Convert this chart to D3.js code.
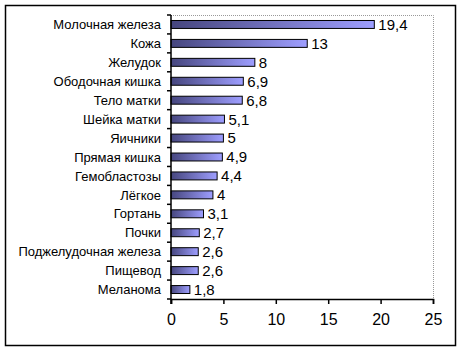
<!DOCTYPE html>
<html>
<head>
<meta charset="utf-8">
<script src="https://cdn.jsdelivr.net/npm/d3@7"></script>
<style>
  body { margin: 0; background: #fff; }
  svg { font-family: "Liberation Sans", Arial, sans-serif; }
</style>
</head>
<body>
<div id="chart"></div>
<script>
var categories = ["Молочная железа", "Кожа", "Желудок", "Ободочная кишка", "Тело матки",
  "Шейка матки", "Яичники", "Прямая кишка", "Гемобластозы", "Лёгкое", "Гортань",
  "Почки", "Поджелудочная железа", "Пищевод", "Меланома"];
var values = [19.4, 13, 8, 6.9, 6.8, 5.1, 5, 4.9, 4.4, 4, 3.1, 2.7, 2.6, 2.6, 1.8];
var xTicks = [0, 5, 10, 15, 20, 25];

var W = 462, H = 351;
var margin = { top: 15, right: 29, bottom: 52, left: 171 },
  width = W - margin.left - margin.right,
  height = H - margin.top - margin.bottom;

var root = d3.select("#chart").append("svg")
  .attr("width", W)
  .attr("height", H);

var defs = root.append("defs");
var grad = defs.append("linearGradient").attr("id", "barGrad")
  .attr("x1", "0%").attr("x2", "100%").attr("y1", "0%").attr("y2", "0%");
grad.append("stop").attr("offset", "0%").attr("stop-color", "#46467e");
grad.append("stop").attr("offset", "100%").attr("stop-color", "#9e9eff");

// outer frame
root.append("rect")
  .attr("x", 5.5).attr("y", 5.5)
  .attr("width", 450).attr("height", 340)
  .attr("fill", "none").attr("stroke", "#000").attr("stroke-width", 1.5);

var svg = root.append("g")
  .attr("transform", "translate(" + margin.left + "," + margin.top + ")");

var x = d3.scaleLinear()
  .domain([0, 25])
  .range([0, width]);

var y = d3.scaleBand()
  .domain(categories)
  .range([0, height])
  .paddingInner(0.58)
  .paddingOuter(0.29);

// plot area top/right border (dotted gray)
svg.append("path")
  .attr("d", "M0,0.5H" + (width + 0.5) + "V" + height)
  .attr("fill", "none")
  .attr("stroke", "#999")
  .attr("stroke-dasharray", "1,1");

svg.append("g")
  .selectAll("rect")
  .data(values)
  .enter()
  .append("rect")
  .attr("x", x(0))
  .attr("y", function (d, i) { return y(categories[i]); })
  .attr("width", function (d) { return x(d); })
  .attr("height", y.bandwidth())
  .attr("fill", "url(#barGrad)")
  .attr("stroke", "#000")
  .attr("stroke-width", 1);

svg.append("g")
  .selectAll("text")
  .data(values)
  .enter()
  .append("text")
  .attr("x", function (d) { return x(d) + 4; })
  .attr("y", function (d, i) { return y(categories[i]) + y.bandwidth() / 2; })
  .attr("dy", "0.36em")
  .style("font-size", "15px")
  .text(function (d) { return String(d).replace(".", ","); });

// x axis
var xAxis = svg.append("g")
  .attr("transform", "translate(0," + height + ")")
  .call(d3.axisBottom(x).tickValues(xTicks).tickSize(5).tickPadding(10));
xAxis.selectAll("text").style("font-size", "16px").attr("fill", "#000");
xAxis.selectAll("line, path").attr("stroke", "#000").attr("stroke-width", 1.5);

// y axis: ticks between categories, labels centred
var step = height / categories.length;
var yAxis = svg.append("g");
yAxis.append("line")
  .attr("x1", 0).attr("x2", 0).attr("y1", 0).attr("y2", height + 5)
  .attr("stroke", "#000").attr("stroke-width", 1.5);
yAxis.selectAll(".tk")
  .data(d3.range(categories.length + 1))
  .enter()
  .append("line")
  .attr("x1", -4).attr("x2", 0)
  .attr("y1", function (d) { return d * step; })
  .attr("y2", function (d) { return d * step; })
  .attr("stroke", "#000").attr("stroke-width", 1.5);
yAxis.selectAll(".lbl")
  .data(categories)
  .enter()
  .append("text")
  .attr("x", -10)
  .attr("y", function (d) { return y(d) + y.bandwidth() / 2; })
  .attr("dy", "0.36em")
  .attr("text-anchor", "end")
  .style("font-size", "13px")
  .text(function (d) { return d; });
</script>
</body>
</html>
